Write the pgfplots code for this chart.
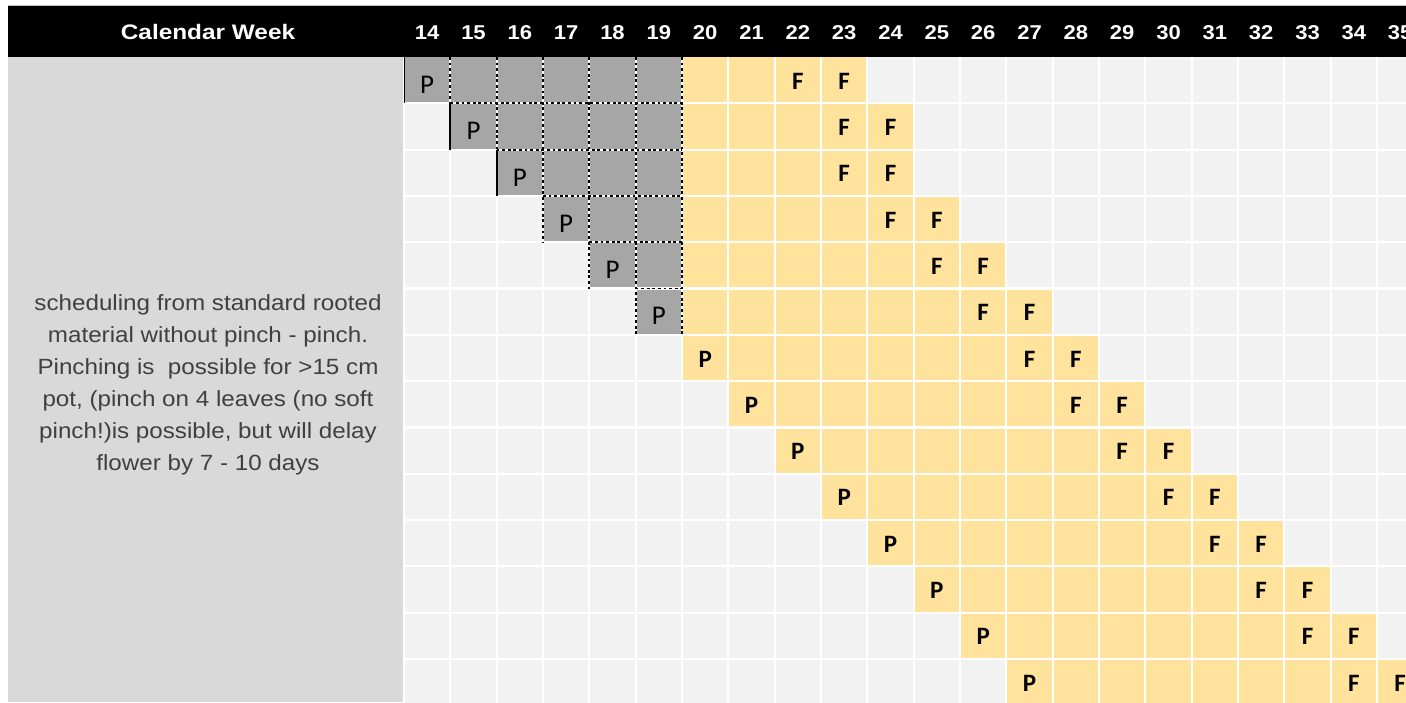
\documentclass[border=0pt]{standalone}
\usepackage{pgfplots}
\pgfplotsset{compat=1.18}
\usepackage{fontspec}
\setmainfont{Liberation Sans}
\newfontfamily\carlito{Carlito}
\definecolor{cellempty}{RGB}{242,242,242}
\definecolor{cellgray}{RGB}{166,166,166}
\definecolor{cellyellow}{RGB}{255,226,155}
\definecolor{panelgray}{RGB}{217,217,217}
\definecolor{paneltext}{RGB}{64,64,64}
\begin{document}
\begin{tikzpicture}
\useasboundingbox (-202pt,0pt) rectangle (501pt,351pt);
% header band and left panel
\fill[black] (-198pt,322.5pt) rectangle (501pt,348pt);
\draw[black!25, line width=0.6pt] (-198pt,348.3pt) -- (501pt,348.3pt);
\fill[panelgray] (-198pt,0pt) rectangle (-0.5pt,322.5pt);
\node[anchor=base, text=white, font=\bfseries\fontsize{10.5}{12}\selectfont, xscale=1.16] at (-98pt,331.3pt) {Calendar Week};
\node[align=center, text=paneltext, font=\fontsize{11}{16}\selectfont, xscale=1.1] at (-98pt,158.5pt)
{scheduling from standard rooted\\material without pinch - pinch.\\Pinching is\ \ possible for >15 cm\\pot, (pinch on 4 leaves (no soft\\pinch!)is possible, but will delay\\flower by 7 - 10 days};
\begin{axis}[
  at={(0pt,0pt)}, anchor=south west,
  scale only axis, width=501pt, height=322.5pt,
  xmin=13.5, xmax=35.126, ymin=-0.5, ymax=13.43,
  y dir=reverse, enlargelimits=false,
  axis line style={draw=none},
  tick style={draw=none},
  major tick length=0pt,
  xtick={14,...,35}, ytick=\empty,
  xticklabel pos=right,
  /pgf/number format/assume math mode=true,
  xticklabel style={font=\bfseries\fontsize{10}{12}\selectfont, text=white, anchor=base, yshift=8.8pt, xscale=1.1},
  colormap={cells}{rgb255=(242,242,242) rgb255=(166,166,166) rgb255=(255,226,155)},
  colormap access=direct,
  dotl/.style={black, line width=0.9pt, dash pattern=on 1.4pt off 1.4pt},
  solidl/.style={black, line width=1.1pt},
  lbl/.style={draw=none, nodes near coords align=center},
]
\addplot[matrix plot*, mesh/cols=22, point meta=explicit] coordinates {
(14,0)[1] (15,0)[1] (16,0)[1] (17,0)[1] (18,0)[1] (19,0)[1] (20,0)[2] (21,0)[2] (22,0)[2] (23,0)[2] (24,0)[0] (25,0)[0] (26,0)[0] (27,0)[0] (28,0)[0] (29,0)[0] (30,0)[0] (31,0)[0] (32,0)[0] (33,0)[0] (34,0)[0] (35,0)[0]
(14,1)[0] (15,1)[1] (16,1)[1] (17,1)[1] (18,1)[1] (19,1)[1] (20,1)[2] (21,1)[2] (22,1)[2] (23,1)[2] (24,1)[2] (25,1)[0] (26,1)[0] (27,1)[0] (28,1)[0] (29,1)[0] (30,1)[0] (31,1)[0] (32,1)[0] (33,1)[0] (34,1)[0] (35,1)[0]
(14,2)[0] (15,2)[0] (16,2)[1] (17,2)[1] (18,2)[1] (19,2)[1] (20,2)[2] (21,2)[2] (22,2)[2] (23,2)[2] (24,2)[2] (25,2)[0] (26,2)[0] (27,2)[0] (28,2)[0] (29,2)[0] (30,2)[0] (31,2)[0] (32,2)[0] (33,2)[0] (34,2)[0] (35,2)[0]
(14,3)[0] (15,3)[0] (16,3)[0] (17,3)[1] (18,3)[1] (19,3)[1] (20,3)[2] (21,3)[2] (22,3)[2] (23,3)[2] (24,3)[2] (25,3)[2] (26,3)[0] (27,3)[0] (28,3)[0] (29,3)[0] (30,3)[0] (31,3)[0] (32,3)[0] (33,3)[0] (34,3)[0] (35,3)[0]
(14,4)[0] (15,4)[0] (16,4)[0] (17,4)[0] (18,4)[1] (19,4)[1] (20,4)[2] (21,4)[2] (22,4)[2] (23,4)[2] (24,4)[2] (25,4)[2] (26,4)[2] (27,4)[0] (28,4)[0] (29,4)[0] (30,4)[0] (31,4)[0] (32,4)[0] (33,4)[0] (34,4)[0] (35,4)[0]
(14,5)[0] (15,5)[0] (16,5)[0] (17,5)[0] (18,5)[0] (19,5)[1] (20,5)[2] (21,5)[2] (22,5)[2] (23,5)[2] (24,5)[2] (25,5)[2] (26,5)[2] (27,5)[2] (28,5)[0] (29,5)[0] (30,5)[0] (31,5)[0] (32,5)[0] (33,5)[0] (34,5)[0] (35,5)[0]
(14,6)[0] (15,6)[0] (16,6)[0] (17,6)[0] (18,6)[0] (19,6)[0] (20,6)[2] (21,6)[2] (22,6)[2] (23,6)[2] (24,6)[2] (25,6)[2] (26,6)[2] (27,6)[2] (28,6)[2] (29,6)[0] (30,6)[0] (31,6)[0] (32,6)[0] (33,6)[0] (34,6)[0] (35,6)[0]
(14,7)[0] (15,7)[0] (16,7)[0] (17,7)[0] (18,7)[0] (19,7)[0] (20,7)[0] (21,7)[2] (22,7)[2] (23,7)[2] (24,7)[2] (25,7)[2] (26,7)[2] (27,7)[2] (28,7)[2] (29,7)[2] (30,7)[0] (31,7)[0] (32,7)[0] (33,7)[0] (34,7)[0] (35,7)[0]
(14,8)[0] (15,8)[0] (16,8)[0] (17,8)[0] (18,8)[0] (19,8)[0] (20,8)[0] (21,8)[0] (22,8)[2] (23,8)[2] (24,8)[2] (25,8)[2] (26,8)[2] (27,8)[2] (28,8)[2] (29,8)[2] (30,8)[2] (31,8)[0] (32,8)[0] (33,8)[0] (34,8)[0] (35,8)[0]
(14,9)[0] (15,9)[0] (16,9)[0] (17,9)[0] (18,9)[0] (19,9)[0] (20,9)[0] (21,9)[0] (22,9)[0] (23,9)[2] (24,9)[2] (25,9)[2] (26,9)[2] (27,9)[2] (28,9)[2] (29,9)[2] (30,9)[2] (31,9)[2] (32,9)[0] (33,9)[0] (34,9)[0] (35,9)[0]
(14,10)[0] (15,10)[0] (16,10)[0] (17,10)[0] (18,10)[0] (19,10)[0] (20,10)[0] (21,10)[0] (22,10)[0] (23,10)[0] (24,10)[2] (25,10)[2] (26,10)[2] (27,10)[2] (28,10)[2] (29,10)[2] (30,10)[2] (31,10)[2] (32,10)[2] (33,10)[0] (34,10)[0] (35,10)[0]
(14,11)[0] (15,11)[0] (16,11)[0] (17,11)[0] (18,11)[0] (19,11)[0] (20,11)[0] (21,11)[0] (22,11)[0] (23,11)[0] (24,11)[0] (25,11)[2] (26,11)[2] (27,11)[2] (28,11)[2] (29,11)[2] (30,11)[2] (31,11)[2] (32,11)[2] (33,11)[2] (34,11)[0] (35,11)[0]
(14,12)[0] (15,12)[0] (16,12)[0] (17,12)[0] (18,12)[0] (19,12)[0] (20,12)[0] (21,12)[0] (22,12)[0] (23,12)[0] (24,12)[0] (25,12)[0] (26,12)[2] (27,12)[2] (28,12)[2] (29,12)[2] (30,12)[2] (31,12)[2] (32,12)[2] (33,12)[2] (34,12)[2] (35,12)[0]
(14,13)[0] (15,13)[0] (16,13)[0] (17,13)[0] (18,13)[0] (19,13)[0] (20,13)[0] (21,13)[0] (22,13)[0] (23,13)[0] (24,13)[0] (25,13)[0] (26,13)[0] (27,13)[2] (28,13)[2] (29,13)[2] (30,13)[2] (31,13)[2] (32,13)[2] (33,13)[2] (34,13)[2] (35,13)[2]
};
% white cell separators
\pgfplotsinvokeforeach{13.5,14.5,...,35.5}{\addplot[white, line width=1.1pt] coordinates {(#1,-0.6) (#1,14)};}
\pgfplotsinvokeforeach{0.5,1.5,...,13.5}{\addplot[white, line width=1.1pt] coordinates {(13.4,#1) (36,#1)};}
% dotted borders of the gray block
\addplot[dotl] coordinates {(14.5,-0.5) (14.5,0.5)};
\addplot[dotl] coordinates {(15.5,-0.5) (15.5,1.5)};
\addplot[dotl] coordinates {(16.5,-0.5) (16.5,3.5)};
\addplot[dotl] coordinates {(17.5,-0.5) (17.5,4.5)};
\addplot[dotl] coordinates {(18.5,-0.5) (18.5,5.5)};
\addplot[dotl] coordinates {(19.5,-0.5) (19.5,5.5)};
\addplot[dotl] coordinates {(14.5,0.5) (19.5,0.5)};
\addplot[dotl] coordinates {(15.5,1.5) (19.5,1.5)};
\addplot[dotl] coordinates {(16.5,2.5) (19.5,2.5)};
\addplot[dotl] coordinates {(17.5,3.5) (19.5,3.5)};
\addplot[dotl] coordinates {(18.5,4.5) (19.5,4.5)};
\addplot[solidl] coordinates {(13.5,-0.5) (13.5,0.5)};
\addplot[solidl] coordinates {(14.5,0.5) (14.5,1.5)};
\addplot[solidl] coordinates {(15.5,1.5) (15.5,2.5)};
% cell labels
\addplot[lbl, nodes near coords={P}, every node near coord/.append style={font=\carlito\fontsize{13.5}{14}\selectfont, text=black, yshift=-2.3pt}]
coordinates {(14,0) (15,1) (16,2) (17,3) (18,4) (19,5)};
\addplot[lbl, nodes near coords={P}, every node near coord/.append style={font=\carlito\bfseries\fontsize{12.5}{14}\selectfont, text=black, yshift=-0.5pt}]
coordinates {(20,6) (21,7) (22,8) (23,9) (24,10) (25,11) (26,12) (27,13)};
\addplot[lbl, nodes near coords={F}, every node near coord/.append style={font=\carlito\bfseries\fontsize{12.5}{14}\selectfont, text=black, yshift=-0.5pt}]
coordinates {(22,0) (23,0) (23,1) (24,1) (23,2) (24,2) (24,3) (25,3) (25,4) (26,4) (26,5) (27,5) (27,6) (28,6) (28,7) (29,7) (29,8) (30,8) (30,9) (31,9) (31,10) (32,10) (32,11) (33,11) (33,12) (34,12) (34,13) (35,13)};
\end{axis}
\end{tikzpicture}
\end{document}
